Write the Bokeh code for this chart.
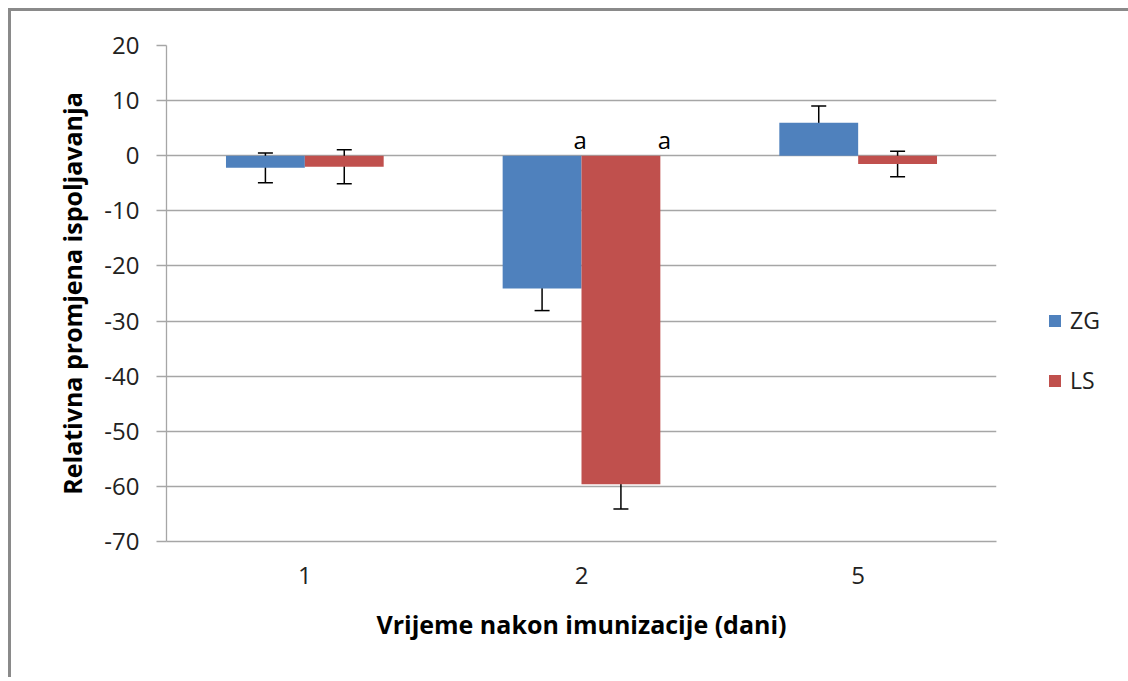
from bokeh.plotting import figure
from bokeh.models import ColumnDataSource, Whisker, Legend, LegendItem, FixedTicker
from bokeh.transform import dodge
from bokeh.core.properties import value
from bokeh.embed import file_html
from bokeh.resources import INLINE

categories = ["1", "2", "5"]
zg_values = [-2.2, -24.1, 6.0]
zg_errors = [2.7, 4.0, 3.0]
ls_values = [-2.0, -59.6, -1.5]
ls_errors = [3.1, 4.5, 2.3]
series_names = ["ZG", "LS"]
sig_categories = ["2", "2"]
sig_labels = ["a", "a"]
y_ticks = [20, 10, 0, -10, -20, -30, -40, -50, -60, -70]

FONT = "Open Sans"
BLUE = "#4F81BD"
RED = "#C0504D"
GRID = "#a6a6a6"

src = ColumnDataSource(dict(
    cat=categories,
    zg=zg_values, zg_lo=[v - e for v, e in zip(zg_values, zg_errors)], zg_hi=[v + e for v, e in zip(zg_values, zg_errors)],
    ls=ls_values, ls_lo=[v - e for v, e in zip(ls_values, ls_errors)], ls_hi=[v + e for v, e in zip(ls_values, ls_errors)],
))

p = figure(x_range=categories, y_range=(-70, 20), frame_width=830, frame_height=496,
           output_backend="svg", toolbar_location=None,
           min_border_left=155, min_border_right=130, min_border_top=34, min_border_bottom=136)
p.styles = {"border-left": "3px solid #8a8a8a", "border-top": "3px solid #8a8a8a",
            "margin-left": "8px", "margin-top": "8px"}
p.outline_line_color = None
p.background_fill_color = "white"

bw = 0.285
off = bw / 2
r1 = p.vbar(x=dodge("cat", -off, range=p.x_range), top="zg", bottom=0, width=bw, source=src,
            fill_color=BLUE, line_color=None)
r2 = p.vbar(x=dodge("cat", off, range=p.x_range), top="ls", bottom=0, width=bw, source=src,
            fill_color=RED, line_color=None)

for key, o in (("zg", -off), ("ls", off)):
    w = Whisker(base=dodge("cat", o, range=p.x_range), lower=key + "_lo", upper=key + "_hi", source=src,
                line_color="black", line_width=1.5)
    for h in (w.upper_head, w.lower_head):
        h.size = 15
        h.line_color = "black"
        h.line_width = 1.5
    p.add_layout(w)

sig_offsets = [-0.005, 0.3]
for i in range(len(sig_labels)):
    s = ColumnDataSource(dict(cat=[sig_categories[i]], label=[sig_labels[i]], y=[0]))
    p.text(x=dodge("cat", sig_offsets[i], range=p.x_range), y="y", text="label", source=s,
           text_font=value(FONT), text_font_size="24px", text_align="center",
           text_baseline="bottom", y_offset=0, text_color="black")

p.xgrid.grid_line_color = None
p.ygrid.grid_line_color = GRID
p.ygrid.grid_line_width = 1.3
p.yaxis.ticker = FixedTicker(ticks=y_ticks)
p.yaxis.major_label_overrides = {t: str(t) for t in y_ticks}

p.yaxis.axis_line_color = GRID
p.yaxis.axis_line_width = 1.3
p.yaxis.major_tick_line_color = GRID
p.yaxis.major_tick_line_width = 1.3
p.yaxis.major_tick_out = 10
p.yaxis.major_tick_in = 0
p.yaxis.minor_tick_line_color = None
p.yaxis.major_label_standoff = 17
p.yaxis.major_label_text_font = FONT
p.yaxis.major_label_text_font_size = "24px"
p.yaxis.major_label_text_color = "#222222"
p.yaxis.axis_label = "Relativna promjena ispoljavanja"
p.yaxis.axis_label_text_font = FONT
p.yaxis.axis_label_text_font_size = "25px"
p.yaxis.axis_label_text_font_style = "bold"
p.yaxis.axis_label_text_color = "black"
p.yaxis.axis_label_standoff = 12

p.xaxis.axis_line_color = GRID
p.xaxis.axis_line_width = 1.3
p.xaxis.major_tick_line_color = None
p.xaxis.minor_tick_line_color = None
p.xaxis.major_label_standoff = 19
p.xaxis.major_label_text_font = FONT
p.xaxis.major_label_text_font_size = "24px"
p.xaxis.major_label_text_color = "#222222"
p.xaxis.axis_label = "Vrijeme nakon imunizacije (dani)"
p.xaxis.axis_label_text_font = FONT
p.xaxis.axis_label_text_font_size = "25px"
p.xaxis.axis_label_text_font_style = "bold"
p.xaxis.axis_label_text_color = "black"
p.xaxis.axis_label_standoff = 20

legend = Legend(items=[LegendItem(label=series_names[0], renderers=[r1]),
                       LegendItem(label=series_names[1], renderers=[r2])],
                location=(51, 145), orientation="vertical",
                glyph_width=15, glyph_height=15, label_height=24, spacing=28,
                padding=0, margin=0, border_line_color=None, background_fill_alpha=0,
                label_text_font=FONT, label_text_font_size="23px", label_text_color="#222222",
                label_standoff=8)
p.add_layout(legend, "right")

open("out.html", "w").write(file_html(p, INLINE))
